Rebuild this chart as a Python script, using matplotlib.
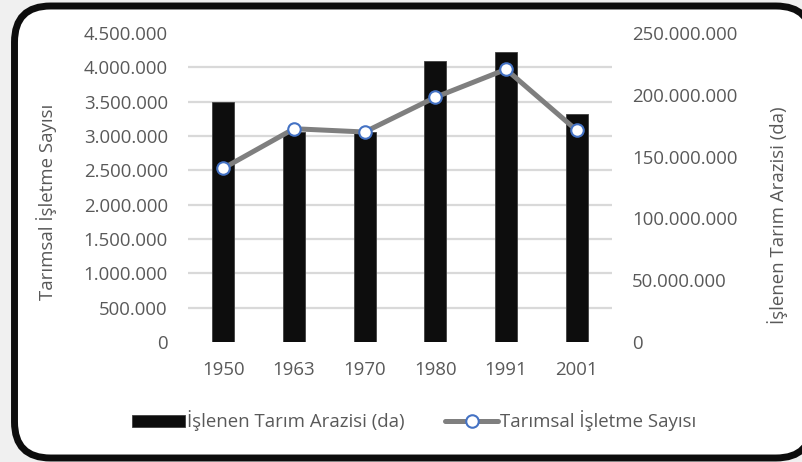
import numpy as np
import matplotlib
matplotlib.use("Agg")
import matplotlib.pyplot as plt
from matplotlib.patches import FancyBboxPatch
from matplotlib.ticker import FuncFormatter

plt.rcParams['font.family'] = ['Open Sans', 'DejaVu Sans']

years = ["1950", "1963", "1970", "1980", "1991", "2001"]
# İşlenen Tarım Arazisi (da) - right axis
arazi = [194200000, 170000000, 170000000, 227600000, 234400000, 184200000]
# Tarımsal İşletme Sayısı - left axis
isletme = [2530000, 3106000, 3058000, 3564000, 3971000, 3083000]

TXT = "#595959"
FS = 13.4


def tr_fmt(v, pos):
    return "{:,.0f}".format(v).replace(",", ".")


fig = plt.figure(figsize=(8.02, 4.62), dpi=100)
fig.patch.set_facecolor("#f0f0f0")

# rounded black frame
frame = FancyBboxPatch((14.5 / 802, 4 / 462), (812 - 14.5) / 802, (456 - 4) / 462,
                       boxstyle="round,pad=0,rounding_size=0.045",
                       transform=fig.transFigure, facecolor="white",
                       edgecolor="#0d0d0d", linewidth=5.0, zorder=-5,
                       mutation_aspect=802 / 462)
fig.patches.append(frame)

ax = fig.add_axes([188 / 802, 1 - 342 / 462, 424 / 802, 309 / 462])
ax.patch.set_visible(False)
x = np.arange(len(years))
ax.bar(x, arazi, width=0.31, color="#0d0d0d", edgecolor="#404040",
       linewidth=0.6, zorder=3)
ax.set_ylim(0, 250000000)
ax.set_xlim(-0.5, len(years) - 0.5)
ax.set_yticks(np.arange(0, 250000001, 50000000))
ax.set_yticks(np.linspace(0, 250000000, 10), minor=True)
ax.yaxis.set_major_formatter(FuncFormatter(tr_fmt))
ax.yaxis.set_minor_formatter(FuncFormatter(lambda v, p: ""))
ax.grid(which="minor", axis="y", color="#d9d9d9", linewidth=1.6, zorder=0)
ax.set_xticks(x)
ax.set_xticklabels(years)
ax.tick_params(axis="x", length=0, pad=14, labelsize=FS, labelcolor=TXT)
for s in ax.spines.values():
    s.set_visible(False)

ax2 = ax.twinx()
ax2.plot(x, isletme, color="#7f7f7f", linewidth=3.6, marker="o",
         markersize=9, markerfacecolor="white", markeredgecolor="#4472c4",
         markeredgewidth=1.5, zorder=5, solid_capstyle="round")
ax2.set_ylim(0, 4500000)
ax2.set_yticks(np.arange(0, 4500001, 500000))
ax2.yaxis.set_major_formatter(FuncFormatter(tr_fmt))
for s in ax2.spines.values():
    s.set_visible(False)

# bar axis labels on the right, line axis labels on the left
ax.tick_params(axis="y", which="both", length=0, pad=14.5, labelsize=FS,
               labelcolor=TXT, left=False, labelleft=False,
               right=False, labelright=True)
ax2.tick_params(axis="y", which="both", length=0, pad=14.5, labelsize=FS,
                labelcolor=TXT, left=False, labelleft=True,
                right=False, labelright=False)

fig.text(47 / 802, 1 - 202 / 462, "Tarımsal İşletme Sayısı", rotation=90,
         ha="center", va="center", fontsize=FS, color=TXT)
fig.text(778 / 802, 1 - 215 / 462, "İşlenen Tarım Arazisi (da)", rotation=90,
         ha="center", va="center", fontsize=FS, color=TXT)

h1 = ax.patches[0]
h2 = ax2.lines[0]
leg = fig.legend([h1, h2], ["İşlenen Tarım Arazisi (da)", "Tarımsal İşletme Sayısı"],
                 loc="center", bbox_to_anchor=(414 / 802, 1 - 421 / 462),
                 ncol=2, frameon=False, fontsize=FS, handlelength=2.85,
                 handletextpad=0.1, columnspacing=2.2, handleheight=0.6,
                 labelcolor=TXT, numpoints=1)

fig.savefig("out.png", dpi=100, facecolor=fig.get_facecolor())
